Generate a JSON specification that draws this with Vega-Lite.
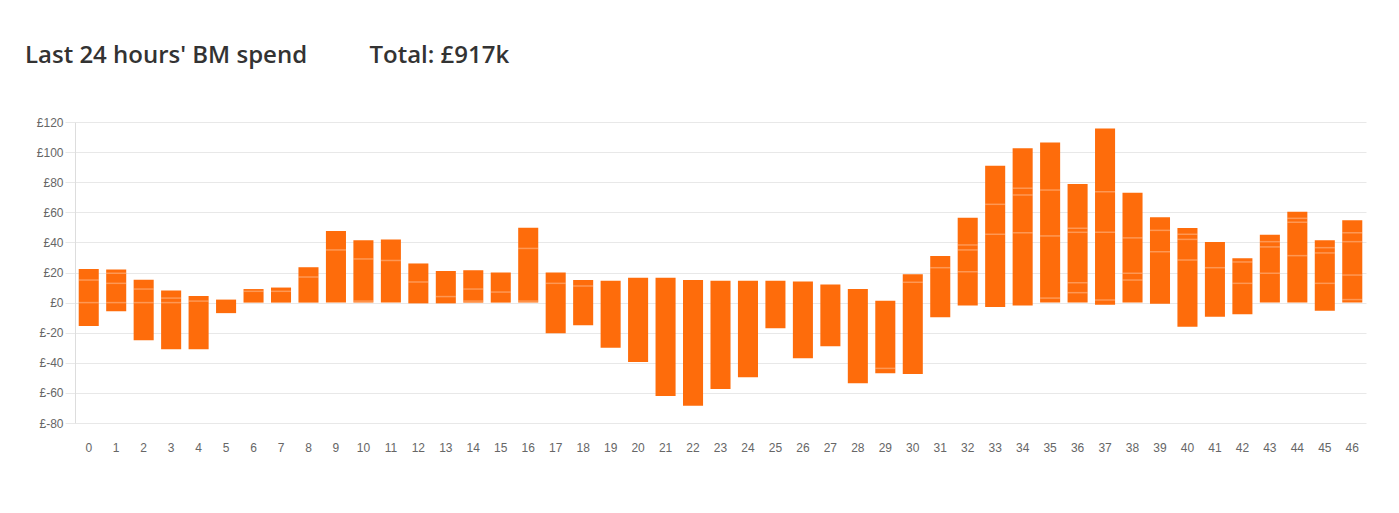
{
  "$schema": "https://vega.github.io/schema/vega-lite/v6.json",
  "width": 1291,
  "height": 301,
  "autosize": {"type": "none"},
  "padding": {"left": 75, "top": 122, "right": 33, "bottom": 90},
  "background": "white",
  "title": {
    "text": "Last 24 hours' BM spend\u00a0\u00a0\u00a0\u00a0\u00a0\u00a0\u00a0\u00a0\u00a0\u00a0Total: £917k",
    "anchor": "start",
    "frame": "group",
    "orient": "top",
    "baseline": "alphabetic",
    "dx": -50,
    "offset": 29,
    "font": "Open Sans",
    "fontWeight": 600,
    "fontSize": 24,
    "color": "#333333"
  },
  "datasets": {
    "bars": [
      {"sp": 0, "lo": -15.5, "hi": 22.3},
      {"sp": 1, "lo": -5.8, "hi": 22.0},
      {"sp": 2, "lo": -25.0, "hi": 15.2},
      {"sp": 3, "lo": -31.0, "hi": 8.0},
      {"sp": 4, "lo": -31.0, "hi": 4.4},
      {"sp": 5, "lo": -7.0, "hi": 2.0},
      {"sp": 6, "lo": 0, "hi": 9.0},
      {"sp": 7, "lo": 0, "hi": 10.0},
      {"sp": 8, "lo": 0, "hi": 23.5},
      {"sp": 9, "lo": 0, "hi": 47.5},
      {"sp": 10, "lo": 0, "hi": 41.5},
      {"sp": 11, "lo": 0, "hi": 42.0},
      {"sp": 12, "lo": -0.5, "hi": 26.0},
      {"sp": 13, "lo": -0.5, "hi": 21.0},
      {"sp": 14, "lo": 0, "hi": 21.5},
      {"sp": 15, "lo": 0, "hi": 20.0},
      {"sp": 16, "lo": 0, "hi": 49.8},
      {"sp": 17, "lo": -20.4, "hi": 20.0},
      {"sp": 18, "lo": -15.0, "hi": 15.0},
      {"sp": 19, "lo": -30.0, "hi": 14.5},
      {"sp": 20, "lo": -39.5, "hi": 16.5},
      {"sp": 21, "lo": -62.0, "hi": 16.5},
      {"sp": 22, "lo": -68.5, "hi": 15.0},
      {"sp": 23, "lo": -57.4, "hi": 14.5},
      {"sp": 24, "lo": -49.6, "hi": 14.5},
      {"sp": 25, "lo": -17.0, "hi": 14.5},
      {"sp": 26, "lo": -37.0, "hi": 14.0},
      {"sp": 27, "lo": -29.0, "hi": 12.0},
      {"sp": 28, "lo": -53.6, "hi": 9.0},
      {"sp": 29, "lo": -47.0, "hi": 1.3},
      {"sp": 30, "lo": -47.5, "hi": 18.8},
      {"sp": 31, "lo": -9.8, "hi": 31.0},
      {"sp": 32, "lo": -2.0, "hi": 56.4},
      {"sp": 33, "lo": -3.0, "hi": 91.0},
      {"sp": 34, "lo": -2.0, "hi": 102.5},
      {"sp": 35, "lo": 0, "hi": 106.3},
      {"sp": 36, "lo": 0, "hi": 78.8},
      {"sp": 37, "lo": -1.4, "hi": 115.6},
      {"sp": 38, "lo": 0, "hi": 73.0},
      {"sp": 39, "lo": -0.8, "hi": 56.7},
      {"sp": 40, "lo": -16.0, "hi": 49.6},
      {"sp": 41, "lo": -9.4, "hi": 40.3},
      {"sp": 42, "lo": -7.8, "hi": 29.4},
      {"sp": 43, "lo": 0, "hi": 45.1},
      {"sp": 44, "lo": 0, "hi": 60.4},
      {"sp": 45, "lo": -5.4, "hi": 41.4},
      {"sp": 46, "lo": 0, "hi": 54.7}
    ],
    "segs": [
      {"sp": 0, "v": 15}, {"sp": 0, "v": 0},
      {"sp": 1, "v": 19.5}, {"sp": 1, "v": 12.8}, {"sp": 1, "v": 0},
      {"sp": 2, "v": 9}, {"sp": 2, "v": 0},
      {"sp": 3, "v": 3}, {"sp": 3, "v": 0},
      {"sp": 4, "v": 1},
      {"sp": 6, "v": 7.5},
      {"sp": 7, "v": 7.5},
      {"sp": 8, "v": 17},
      {"sp": 9, "v": 35},
      {"sp": 10, "v": 29}, {"sp": 10, "v": 1},
      {"sp": 11, "v": 28},
      {"sp": 12, "v": 13.7},
      {"sp": 13, "v": 4},
      {"sp": 14, "v": 9}, {"sp": 14, "v": 1},
      {"sp": 15, "v": 7},
      {"sp": 16, "v": 36}, {"sp": 16, "v": 1},
      {"sp": 17, "v": 12.8},
      {"sp": 18, "v": 11},
      {"sp": 29, "v": -43.7},
      {"sp": 30, "v": 13.5},
      {"sp": 31, "v": 23.2},
      {"sp": 32, "v": 38.3}, {"sp": 32, "v": 35}, {"sp": 32, "v": 20.5},
      {"sp": 33, "v": 65.3}, {"sp": 33, "v": 45.4},
      {"sp": 34, "v": 76}, {"sp": 34, "v": 71.5}, {"sp": 34, "v": 46.4},
      {"sp": 35, "v": 74.8}, {"sp": 35, "v": 44.3}, {"sp": 35, "v": 3},
      {"sp": 36, "v": 49.4}, {"sp": 36, "v": 46.7}, {"sp": 36, "v": 13.2}, {"sp": 36, "v": 6.6},
      {"sp": 37, "v": 73.7}, {"sp": 37, "v": 46.7}, {"sp": 37, "v": 1.7},
      {"sp": 38, "v": 43}, {"sp": 38, "v": 19.5}, {"sp": 38, "v": 15},
      {"sp": 39, "v": 48}, {"sp": 39, "v": 33.8},
      {"sp": 40, "v": 45.4}, {"sp": 40, "v": 42}, {"sp": 40, "v": 28.3},
      {"sp": 41, "v": 23.2},
      {"sp": 42, "v": 27}, {"sp": 42, "v": 12.8},
      {"sp": 43, "v": 40.5}, {"sp": 43, "v": 37}, {"sp": 43, "v": 19.5},
      {"sp": 44, "v": 56}, {"sp": 44, "v": 53.4}, {"sp": 44, "v": 31.2},
      {"sp": 45, "v": 36.5}, {"sp": 45, "v": 33}, {"sp": 45, "v": 12.8},
      {"sp": 46, "v": 46.4}, {"sp": 46, "v": 40.5}, {"sp": 46, "v": 18.3}, {"sp": 46, "v": 2}
    ]
  },
  "encoding": {
    "x": {
      "field": "sp",
      "type": "ordinal",
      "scale": {"domain": [0,1,2,3,4,5,6,7,8,9,10,11,12,13,14,15,16,17,18,19,20,21,22,23,24,25,26,27,28,29,30,31,32,33,34,35,36,37,38,39,40,41,42,43,44,45,46], "paddingInner": 0.27, "paddingOuter": 0.135},
      "axis": {
        "title": null,
        "labelAngle": 0,
        "ticks": false,
        "domain": false,
        "labelPadding": 19,
        "labelFont": "Liberation Sans",
        "labelFontSize": 12,
        "labelColor": "#666666"
      }
    }
  },
  "layer": [
    {
      "data": {"name": "bars"},
      "mark": {"type": "bar", "color": "#FE6C0B"},
      "encoding": {
        "y": {
          "field": "lo",
          "type": "quantitative",
          "scale": {"domain": [-80, 120], "nice": false},
          "axis": {
            "title": null,
            "values": [-80, -60, -40, -20, 0, 20, 40, 60, 80, 100, 120],
            "tickCount": 11,
            "labelExpr": "'£' + datum.value",
            "labelOverlap": false,
            "grid": true,
            "gridColor": "#e8e8e8",
            "tickColor": "#e8e8e8",
            "tickSize": 10,
            "domainColor": "#dddddd",
            "labelPadding": 2,
            "labelFont": "Liberation Sans",
            "labelFontSize": 12,
            "labelColor": "#666666"
          }
        },
        "y2": {"field": "hi"}
      }
    },
    {
      "data": {"name": "segs"},
      "mark": {"type": "tick", "color": "white", "opacity": 0.3, "thickness": 1.5, "size": 20},
      "encoding": {
        "y": {
          "field": "v",
          "type": "quantitative",
          "axis": {
            "title": null,
            "values": [-80, -60, -40, -20, 0, 20, 40, 60, 80, 100, 120],
            "tickCount": 11,
            "labelExpr": "'£' + datum.value",
            "labelOverlap": false,
            "grid": true,
            "gridColor": "#e8e8e8",
            "tickColor": "#e8e8e8",
            "tickSize": 10,
            "domainColor": "#dddddd",
            "labelPadding": 2,
            "labelFont": "Liberation Sans",
            "labelFontSize": 12,
            "labelColor": "#666666"
          }
        }
      }
    }
  ],
  "config": {"view": {"stroke": null}}
}
